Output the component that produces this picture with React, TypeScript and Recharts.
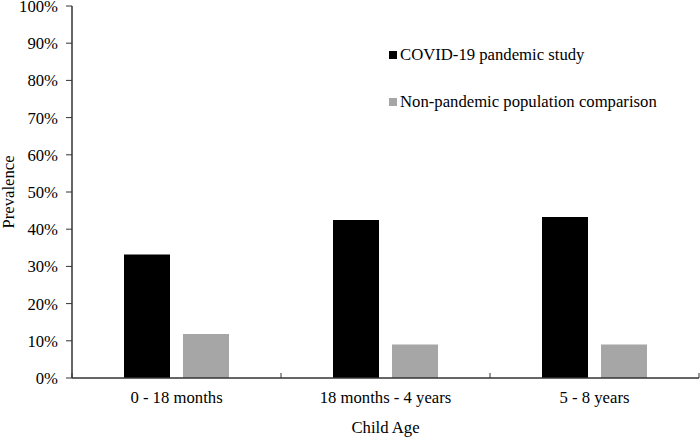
import { Bar, BarChart, Label, Legend, XAxis, YAxis } from "recharts";

const ageGroups = ["0 - 18 months", "18 months - 4 years", "5 - 8 years"];
const pandemicStudy = [33.2, 42.5, 43.3];
const nonPandemic = [11.8, 9.0, 9.0];
const yTicks = [0, 10, 20, 30, 40, 50, 60, 70, 80, 90, 100];

const seriesNames = {
    pandemic: "COVID-19 pandemic study",
    comparison: "Non-pandemic population comparison",
};

const font = "'Liberation Serif', 'Times New Roman', serif";
const fontSize = 16.7;
const axisColor = "#333";
const tickGap = 13;

const chartData = ageGroups.map((age, i) => ({
    age,
    pandemic: pandemicStudy[i],
    comparison: nonPandemic[i],
}));

// category label plus small inward tick marks on the band edges
function AgeTick(props: any) {
    const { x, y, payload, index } = props;
    const half = payload?.offset ?? 0;
    const axisY = y - tickGap;
    const last = index === ageGroups.length - 1;
    return (
        <g>
            <line x1={x - half} x2={x - half} y1={axisY} y2={axisY - 5} stroke={axisColor} />
            {last && <line x1={x + half} x2={x + half} y1={axisY} y2={axisY - 5} stroke={axisColor} />}
            <text x={x} y={y} dy="0.71em" textAnchor="middle" fill="#000" fontSize={fontSize} fontFamily={font}>
                {payload.value}
            </text>
        </g>
    );
}

function LegendBox({ payload }: { payload?: Array<{ value: string; color: string }> }) {
    return (
        <div style={{ fontFamily: font, fontSize, color: "#000" }}>
            {(payload ?? []).map((p) => (
                <div key={p.value} style={{ display: "flex", alignItems: "center", height: 20, marginBottom: 27 }}>
                    <span style={{ display: "inline-block", width: 8, height: 8, background: p.color, marginRight: 3 }} />
                    <span>{p.value}</span>
                </div>
            ))}
        </div>
    );
}

export default function App() {
    return (
        <div style={{ position: "absolute", left: 0, top: 0, width: 700, height: 439, background: "#fff" }}>
            <BarChart
                width={700}
                height={439}
                data={chartData}
                margin={{ top: 6, right: 1, left: 0, bottom: 0 }}
                barSize={46}
                barGap={13}
                style={{ fontFamily: font }}
            >
                <XAxis
                    dataKey="age"
                    height={61}
                    interval={0}
                    tickLine={false}
                    tickSize={0}
                    tickMargin={tickGap}
                    axisLine={{ stroke: axisColor, strokeWidth: 1.5 }}
                    tick={<AgeTick />}
                >
                    <Label value="Child Age" position="insideBottom" offset={6} style={{ fill: "#000", fontSize }} />
                </XAxis>
                <YAxis
                    width={72}
                    domain={[0, 100]}
                    ticks={yTicks}
                    interval={0}
                    tickFormatter={(v: number) => `${v}%`}
                    tickSize={6}
                    tickMargin={8}
                    axisLine={{ stroke: axisColor, strokeWidth: 1.5 }}
                    tickLine={{ stroke: axisColor }}
                    tick={{ fill: "#000", fontSize }}
                >
                    <Label
                        value="Prevalence"
                        angle={-90}
                        position="insideLeft"
                        offset={8}
                        style={{ fill: "#000", fontSize, textAnchor: "middle" }}
                    />
                </YAxis>
                <Legend
                    layout="horizontal"
                    verticalAlign="middle"
                    align="center"
                    content={<LegendBox />}
                    wrapperStyle={{ left: 389, top: 45, width: 310 }}
                />
                <Bar dataKey="pandemic" name={seriesNames.pandemic} fill="#000" isAnimationActive={false} />
                <Bar dataKey="comparison" name={seriesNames.comparison} fill="#a6a6a6" isAnimationActive={false} />
            </BarChart>
        </div>
    );
}
